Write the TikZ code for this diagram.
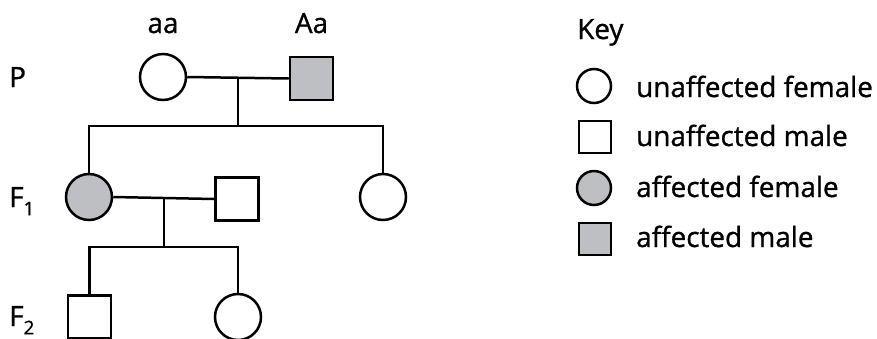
\documentclass[tikz,border=0pt]{standalone}
\usepackage{fontspec}
\setmainfont{Open Sans}[FakeBold=1]
\usetikzlibrary{positioning,calc}

\definecolor{affgrey}{RGB}{190,191,194}
\newcommand{\gensub}[1]{\raisebox{-0.3em}{\fontsize{19}{20}\selectfont #1}}
\tikzset{
    female/.style={circle, draw, line width=2.5bp, minimum size=46bp, inner sep=0pt},
    male/.style={rectangle, draw, line width=2.5bp, minimum size=43bp, inner sep=0pt},
    affected/.style={fill=affgrey},
    keyfemale/.style={female, minimum size=34bp},
    keymale/.style={male, minimum size=32bp},
    txt/.style={font=\fontsize{28}{32}\selectfont, inner sep=0pt},
    link/.style={line width=2.5bp},
}

\begin{document}
\begin{tikzpicture}[x=1bp,y=-1bp]
                \useasboundingbox (0,0) rectangle (877,338);
                \clip (0,0) rectangle (877,338);
                % generation labels
                \node[txt, anchor=base west] (lblP) at (9,87) {P};
                \node[txt, anchor=base west] (lblF1) at (9,207) {F\gensub{1}};
                \node[txt, anchor=base west] (lblF2) at (9,326) {F\gensub{2}};
                % P
                \node[female] (pA) at (163,77) {};
                \node[male, affected] (pB) at (311.5,78.5) {};
                \node[txt, anchor=base] (gA) at (163,33) {aa};
                \node[txt, anchor=base] (gB) at (311.5,33) {Aa};
                % F1
                \node[female, affected] (f1A) at (89,197) {};
                \node[male] (f1B) at (237,199) {};
                \node[female] (f1C) at (383,197) {};
                % F2
                \node[male] (f2A) at (89.5,317) {};
                \node[female] (f2B) at (238,317) {};
                % lines
                \draw[link] (pA.east) -- (pB.west);
                \coordinate (pMid) at ($(pA.east)!0.5!(pB.west)$);
                \coordinate (pSib) at ($(pMid)+(0,48)$);
                \draw[link] (pMid) -- (pSib);
                \draw[link] (f1A.north) |- (pSib) -| (f1C.north);
                \draw[link] (f1A.east) -- (f1B.west);
                \coordinate (f1Mid) at ($(f1A.east)!0.5!(f1B.west)$);
                \coordinate (f1Sib) at ($(f1Mid)+(0,49)$);
                \draw[link] (f1Mid) -- (f1Sib);
                \draw[link] (f2A.north) |- (f1Sib) -| (f2B.north);
                % key
                \node[txt, anchor=base west] (key) at (577,39) {Key};
                \node[keyfemale] (kUF) at (594,86) {};
                \node[keymale] (kUM) at (595,137) {};
                \node[keyfemale, affected] (kAF) at (594,188) {};
                \node[keymale, affected] (kAM) at (595,239) {};
                \node[txt, anchor=base west] (tUF) at (636,97) {unaffected female};
                \node[txt, anchor=base west] (tUM) at (636,146) {unaffected male};
                \node[txt, anchor=base west] (tAF) at (636,197) {affected female};
                \node[txt, anchor=base west] (tAM) at (636,247) {affected male};
\end{tikzpicture}
\end{document}
